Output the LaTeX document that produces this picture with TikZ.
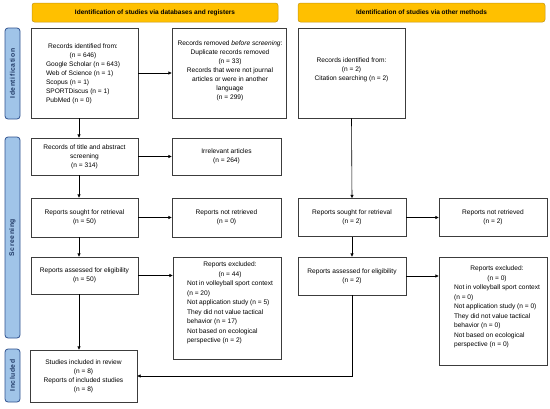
\documentclass[tikz,border=0pt]{standalone}
\usepackage{fontspec}
\setmainfont{Liberation Sans}
\newfontfamily\phasefam[LetterSpace=8]{Liberation Sans}
\usetikzlibrary{arrows.meta}
\definecolor{yel}{RGB}{255,192,0}
\definecolor{yelborder}{RGB}{196,150,20}
\definecolor{bluefill}{RGB}{160,196,232}
\definecolor{blueborder}{RGB}{47,82,143}
\definecolor{bluetext}{RGB}{31,56,100}
\definecolor{boxgray}{RGB}{60,60,60}
\newcommand\boxfont{\fontsize{6.6}{9}\selectfont}
\newcommand\boxfontwide{\fontsize{6.6}{9.5}\selectfont}
\newcommand\bannerfont{\bfseries\fontsize{6.5}{8}\selectfont}
\newcommand\phasefont{\phasefam\bfseries\fontsize{6.8}{8}\selectfont}
\begin{document}
\begin{tikzpicture}[x=1pt,y=-1pt,
  box/.style={draw=boxgray, line width=0.7pt, fill=white, inner sep=0pt, align=center, font=\boxfont},
  txt/.style={inner sep=0pt, align=center, font=\boxfont},
  txtwide/.style={inner sep=0pt, align=center, font=\boxfontwide},
  arr/.style={-{Triangle[length=3.2pt,width=3pt]}, line width=0.6pt, draw=black},
  banner/.style={draw=yelborder, fill=yel, rounded corners=2.5pt, line width=0.5pt, font=\bannerfont, inner sep=0pt},
  phase/.style={draw=blueborder, fill=bluefill, rounded corners=3pt, line width=0.8pt, font=\phasefont, text=bluetext, rotate=90, inner sep=0pt, minimum height=15pt}
]
\useasboundingbox (0,0) rectangle (550,408);

% banners
\node[banner, minimum width=246pt, minimum height=19pt] (ban1) at (155,12.5) {Identification of studies via databases and registers};
\node[banner, minimum width=247pt, minimum height=19pt] (ban2) at (421.5,12.5) {Identification of studies via other methods};

% phase bars
\node[phase, minimum width=91pt] (ph1) at (12.5,73.5) {Identification};
\node[phase, minimum width=201pt] (ph2) at (12.5,237.5) {Screening};
\node[phase, minimum width=53pt] (ph3) at (12.5,375.5) {Included};

% identification row
\node[box, minimum width=107pt, minimum height=90pt] (A) at (84.5,73) {};
\node[txt] (At) at (83,74) {\begin{tabular}{@{}l@{}}\multicolumn{1}{@{}c@{}}{Records identified from:}\\ \multicolumn{1}{@{}c@{}}{(n = 646)}\\ Google Scholar (n = 643)\\ Web of Science (n = 1)\\ Scopus (n = 1)\\ SPORTDiscus (n = 1)\\ PubMed (n = 0)\end{tabular}};

\node[box, minimum width=114pt, minimum height=90pt] (B) at (229,73) {};
\node[txt] (Bt) at (230,71) {Records removed \textit{before screening}:\\ Duplicate records removed\\ (n = 33)\\ Records that were not journal\\ articles or were in another\\ language\\ (n = 299)};

\node[box, minimum width=107pt, minimum height=90pt] (C) at (351.5,73) {};
\node[txt] (Ct) at (351.5,70) {Records identified from:\\ (n = 2)\\ Citation searching (n = 2)};

% screening
\node[box, minimum width=107pt, minimum height=37pt] (D) at (84.5,156.5) {Records of title and abstract\\ screening\\ (n = 314)};
\node[box, minimum width=109pt, minimum height=37pt] (E) at (226.5,156.5) {Irrelevant articles\\ (n = 264)};

\node[box, minimum width=107pt, minimum height=39pt] (F) at (84.5,217.5) {Reports sought for retrieval\\ (n = 50)};
\node[box, minimum width=109pt, minimum height=39pt] (G) at (226.5,217.5) {Reports not retrieved\\ (n = 0)};
\node[box, minimum width=108pt, minimum height=38pt] (H) at (352,217.5) {Reports sought for retrieval\\ (n = 2)};
\node[box, minimum width=108pt, minimum height=38pt] (I) at (493,217.5) {Reports not retrieved\\ (n = 2)};

\node[box, minimum width=107pt, minimum height=37pt] (J) at (84.5,275.5) {Reports assessed for eligibility\\ (n = 50)};
\node[box, minimum width=108pt, minimum height=102pt] (K) at (227,308) {};
\node[txtwide] (Kt) at (230,303) {\begin{tabular}{@{}l@{}}\multicolumn{1}{@{}c@{}}{Reports excluded:}\\ \multicolumn{1}{@{}c@{}}{(n = 44)}\\ Not in volleyball sport context\\ (n = 20)\\ Not application study (n = 5)\\ They did not value tactical\\ behavior (n = 17)\\ Not based on ecological\\ perspective (n = 2)\end{tabular}};

\node[box, minimum width=108pt, minimum height=38pt] (L) at (352,276) {Reports assessed for eligibility\\ (n = 2)};
\node[box, minimum width=108pt, minimum height=108pt] (M) at (493,311) {};
\node[txtwide] (Mt) at (497,307) {\begin{tabular}{@{}l@{}}\multicolumn{1}{@{}c@{}}{Reports excluded:}\\ \multicolumn{1}{@{}c@{}}{(n = 0)}\\ Not in volleyball sport context\\ (n = 0)\\ Not application study (n = 0)\\ They did not value tactical\\ behavior (n = 0)\\ Not based on ecological\\ perspective (n = 0)\end{tabular}};

% included
\node[box, minimum width=107pt, minimum height=52pt] (N) at (83.5,376) {Studies included in review\\ (n = 8)\\ Reports of included studies\\ (n = 8)};

% connectors
\coordinate (lx) at (79,0);
\draw[arr] (A.east) -- (B.west);
\draw[arr] (A.south -| lx) -- (D.north -| lx);
\draw[arr] (D.east) -- (E.west);
\draw[arr] (D.south -| lx) -- (F.north -| lx);
\draw[arr] (F.east) -- (G.west);
\draw[arr] (F.south -| lx) -- (J.north -| lx);
\draw[arr] (J.east) -- (J.east -| K.west);
\draw[arr] (J.south -| lx) -- (N.north -| lx);
\draw[arr] (C.south) -- (H.north);
\draw[arr] (H.east) -- (I.west);
\draw[arr] (H.south) -- (L.north);
\draw[arr] (L.east) -- (L.east -| M.west);
\draw[arr] (L.south) |- (N.east);
\end{tikzpicture}
\end{document}
